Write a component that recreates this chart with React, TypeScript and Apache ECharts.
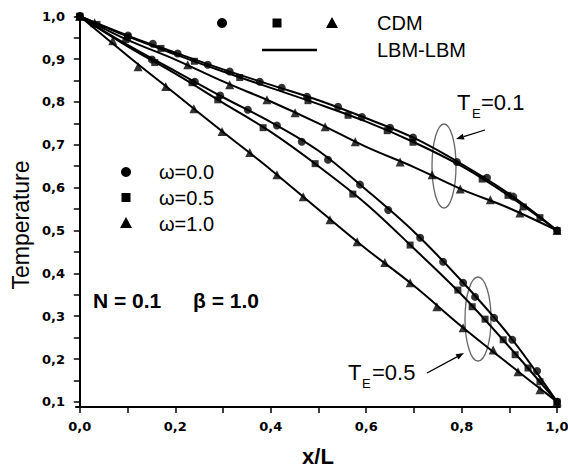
import React, { useEffect, useRef } from "react";
import * as echarts from "echarts";

// LBM-LBM (lines), sampled at xLBM
const xLBM = [0, 0.1, 0.2, 0.3, 0.4, 0.5, 0.6, 0.7, 0.8, 0.9, 1.0];
// T_E = 0.1 group (ends at 0.5)
const lbmA_w00 = [1.0, 0.955, 0.915, 0.876, 0.840, 0.804, 0.762, 0.716, 0.655, 0.585, 0.5];
const lbmA_w05 = [1.0, 0.953, 0.911, 0.871, 0.833, 0.795, 0.754, 0.706, 0.650, 0.580, 0.5];
const lbmA_w10 = [1.0, 0.945, 0.899, 0.848, 0.801, 0.750, 0.695, 0.648, 0.596, 0.552, 0.5];
// T_E = 0.5 group (ends at 0.1)
const lbmB_w00 = [1.0, 0.933, 0.872, 0.811, 0.753, 0.686, 0.595, 0.497, 0.382, 0.254, 0.1];
const lbmB_w05 = [1.0, 0.930, 0.866, 0.798, 0.730, 0.650, 0.562, 0.458, 0.350, 0.228, 0.1];
const lbmB_w10 = [1.0, 0.908, 0.819, 0.730, 0.642, 0.549, 0.457, 0.371, 0.276, 0.187, 0.1];

// CDM (markers) [x, T]
const cdmA_w00 = [[0, 1.0], [0.101, 0.955], [0.153, 0.936], [0.205, 0.913], [0.268, 0.887], [0.314, 0.871], [0.377, 0.847], [0.423, 0.833], [0.476, 0.812], [0.541, 0.789], [0.591, 0.765], [0.650, 0.740], [0.698, 0.717], [0.790, 0.660], [0.853, 0.623], [0.908, 0.579], [1.0, 0.5]];
const cdmA_w05 = [[0, 1.0], [0.036, 0.981], [0.10, 0.952], [0.17, 0.925], [0.24, 0.895], [0.335, 0.857], [0.478, 0.803], [0.562, 0.769], [0.644, 0.733], [0.698, 0.706], [0.843, 0.620], [0.897, 0.582], [0.929, 0.555], [0.964, 0.530], [1.0, 0.5]];
const cdmA_w10 = [[0, 1.0], [0.031, 0.985], [0.095, 0.948], [0.226, 0.887], [0.314, 0.840], [0.392, 0.805], [0.451, 0.775], [0.514, 0.742], [0.577, 0.707], [0.671, 0.660], [0.738, 0.630], [0.797, 0.597], [0.860, 0.572], [0.922, 0.541], [1.0, 0.5]];
const cdmB_w00 = [[0, 1.0], [0.151, 0.899], [0.241, 0.847], [0.294, 0.815], [0.352, 0.782], [0.413, 0.745], [0.465, 0.707], [0.520, 0.665], [0.587, 0.607], [0.646, 0.548], [0.713, 0.483], [0.761, 0.427], [0.803, 0.378], [0.828, 0.345], [0.868, 0.296], [0.906, 0.245], [0.958, 0.172], [1.0, 0.1]];
const cdmB_w05 = [[0, 1.0], [0.157, 0.892], [0.235, 0.845], [0.289, 0.805], [0.384, 0.740], [0.493, 0.656], [0.572, 0.585], [0.692, 0.466], [0.792, 0.361], [0.822, 0.322], [0.849, 0.293], [0.887, 0.245], [0.912, 0.210], [0.939, 0.179], [0.964, 0.147], [1.0, 0.1]];
const cdmB_w10 = [[0, 1.0], [0.069, 0.943], [0.122, 0.882], [0.180, 0.836], [0.239, 0.784], [0.298, 0.731], [0.356, 0.682], [0.413, 0.630], [0.468, 0.579], [0.524, 0.525], [0.581, 0.474], [0.639, 0.425], [0.692, 0.378], [0.748, 0.322], [0.803, 0.273], [0.866, 0.221], [0.918, 0.170], [0.964, 0.128], [1.0, 0.1]];

const xLabelValues = [0, 0.2, 0.4, 0.6, 0.8, 1.0];
const xTickValues = [0, 0.1, 0.2, 0.3, 0.4, 0.5, 0.6, 0.7, 0.8, 0.9, 1.0];
const yLabelValues = [0.1, 0.2, 0.3, 0.4, 0.5, 0.6, 0.7, 0.8, 0.9, 1.0];
const yTickValues = [0.1, 0.15, 0.2, 0.25, 0.3, 0.35, 0.4, 0.45, 0.5, 0.55, 0.6, 0.65, 0.7, 0.75, 0.8, 0.85, 0.9, 0.95, 1.0];

const omegaLabels = ["ω=0.0", "ω=0.5", "ω=1.0"];
const symbols = ["circle", "rect", "triangle"];
const symbolSizes = [8, 7, 9];

const FONT = "'Liberation Sans', Arial, sans-serif";
const TICK_FONT = "'DejaVu Sans', sans-serif";

function arrow(x1: number, y1: number, x2: number, y2: number) {
  const dx = x2 - x1, dy = y2 - y1;
  const len = Math.hypot(dx, dy);
  const ux = dx / len, uy = dy / len;
  const hl = 8, hw = 3;
  const bx = x2 - ux * hl, by = y2 - uy * hl;
  return [
    { type: "line", shape: { x1, y1, x2: bx, y2: by }, style: { stroke: "#000", lineWidth: 1.3 } },
    {
      type: "polygon",
      shape: { points: [[x2, y2], [bx - uy * hw, by + ux * hw], [bx + uy * hw, by - ux * hw]] },
      style: { fill: "#000" },
    },
  ];
}

function txt(x: number, y: number, text: string, size: number, weight: string = "normal", extra: any = {}) {
  return {
    type: "text",
    x,
    y,
    ...extra,
    style: {
      text,
      fontSize: size,
      fontWeight: weight,
      fontFamily: FONT,
      fill: "#000",
      textAlign: extra.align || "left",
      textVerticalAlign: "middle",
    },
  };
}

export default function App() {
  const ref = useRef<HTMLDivElement>(null);
  useEffect(() => {
    document.body.style.margin = "0";
    const chart = echarts.init(ref.current!, null, { renderer: "svg" });
    const lines = [lbmA_w00, lbmA_w05, lbmA_w10, lbmB_w00, lbmB_w05, lbmB_w10];
    const marks = [cdmA_w00, cdmA_w05, cdmA_w10, cdmB_w00, cdmB_w05, cdmB_w10];
    const series: any[] = [];
    lines.forEach((arr) => {
      series.push({
        type: "line",
        name: "LBM-LBM",
        data: xLBM.map((x, j) => [x, arr[j]]),
        smooth: 0.35,
        symbol: "none",
        lineStyle: { color: "#000", width: 2 },
        z: 2,
      });
    });
    marks.forEach((arr, i) => {
      series.push({
        type: "scatter",
        name: "CDM " + omegaLabels[i % 3],
        data: arr,
        symbol: symbols[i % 3],
        symbolSize: symbolSizes[i % 3],
        itemStyle: { color: "#000" },
        z: 3,
      });
    });
    const fmt = (v: number) => v.toFixed(1).replace(".", ",");
    const graphic: any[] = [
      // top legend
      { type: "circle", shape: { cx: 222, cy: 23, r: 5 }, style: { fill: "#000" } },
      { type: "rect", shape: { x: 272.5, y: 18.5, width: 9, height: 9 }, style: { fill: "#000" } },
      { type: "polygon", shape: { points: [[332, 17], [338, 28], [326, 28]] }, style: { fill: "#000" } },
      txt(377, 23, "CDM", 20),
      { type: "line", shape: { x1: 262, y1: 50, x2: 317, y2: 50 }, style: { stroke: "#000", lineWidth: 2.5 } },
      txt(377, 50, "LBM-LBM", 20),
      // omega legend
      { type: "circle", shape: { cx: 126, cy: 172, r: 5 }, style: { fill: "#000" } },
      { type: "rect", shape: { x: 121.5, y: 193, width: 9, height: 9 }, style: { fill: "#000" } },
      { type: "polygon", shape: { points: [[126, 217], [132, 228], [120, 228]] }, style: { fill: "#000" } },
      txt(159, 172, omegaLabels[0], 20),
      txt(159, 198, omegaLabels[1], 20),
      txt(159, 224, omegaLabels[2], 20),
      // parameters
      txt(93, 300, "N = 0.1", 21, "bold"),
      txt(193, 300, "β = 1.0", 21, "bold"),
      // T_E = 0.1 annotation
      txt(457, 102, "T", 22),
      txt(472, 113, "E", 13),
      txt(481, 102, "=0.1", 22),
      { type: "ellipse", shape: { cx: 444, cy: 166, rx: 12, ry: 42 }, style: { fill: "none", stroke: "#666", lineWidth: 1.3 } },
      ...arrow(485, 130, 456, 139),
      // T_E = 0.5 annotation
      txt(348, 372, "T", 22),
      txt(362, 383, "E", 13),
      txt(372, 372, "=0.5", 22),
      { type: "ellipse", shape: { cx: 478, cy: 319, rx: 13, ry: 42 }, style: { fill: "none", stroke: "#666", lineWidth: 1.3 } },
      ...arrow(427, 373, 464, 353),
      // axis titles
      txt(21, 225, "Temperature", 23, "normal", { rotation: Math.PI / 2, align: "center" }),
      txt(318, 456, "x/L", 22, "bold", { align: "center" }),
    ];
    chart.setOption({
      animation: false,
      backgroundColor: "#fff",
      grid: { left: 76, top: 15, right: 8, bottom: 62, containLabel: false, outerBoundsMode: "none" },
      xAxis: {
        type: "value",
        min: -0.008,
        max: 1.006,
        axisLine: { show: true, lineStyle: { color: "#000", width: 2 } },
        axisTick: { show: true, length: 6, customValues: xTickValues, lineStyle: { color: "#000", width: 1.5 } },
        axisLabel: {
          customValues: xLabelValues,
          formatter: fmt,
          color: "#000",
          fontWeight: "bold",
          fontSize: 13,
          fontFamily: TICK_FONT,
          margin: 13,
        },
        splitLine: { show: false },
      },
      yAxis: {
        type: "value",
        min: 0.088,
        max: 1.003,
        axisLine: { show: true, lineStyle: { color: "#000", width: 2 } },
        axisTick: { show: true, length: 6, customValues: yTickValues, lineStyle: { color: "#000", width: 1.5 } },
        axisLabel: {
          customValues: yLabelValues,
          formatter: fmt,
          color: "#000",
          fontWeight: "bold",
          fontSize: 13,
          fontFamily: TICK_FONT,
          margin: 11,
        },
        splitLine: { show: false },
      },
      series,
      graphic,
    });
    return () => chart.dispose();
  }, []);
  return <div ref={ref} style={{ width: 568, height: 469 }} />;
}
